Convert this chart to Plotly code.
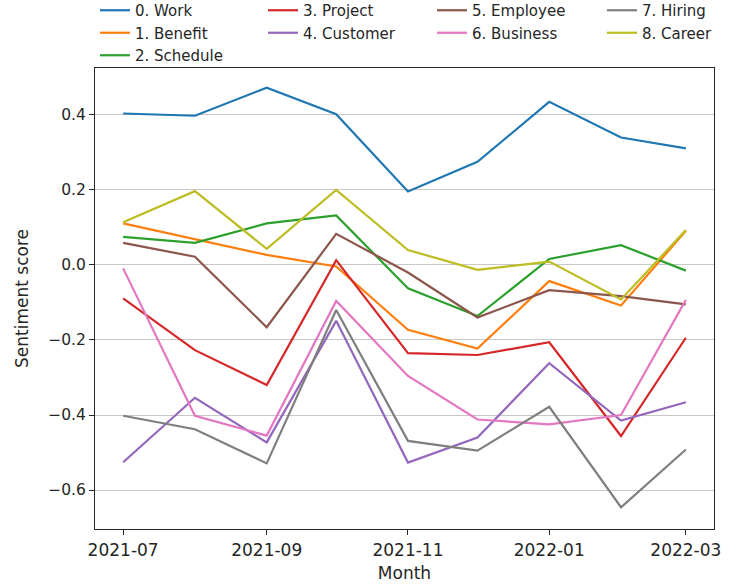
import plotly.graph_objects as go

months = ["2021-07-01", "2021-08-01", "2021-09-01", "2021-10-01", "2021-11-01",
          "2021-12-01", "2022-01-01", "2022-02-01", "2022-03-01"]

work =     [0.404, 0.398, 0.473, 0.402, 0.196, 0.275, 0.435, 0.340, 0.311]
benefit =  [0.111, 0.069, 0.027, -0.004, -0.173, -0.223, -0.043, -0.108, 0.091]
schedule = [0.075, 0.059, 0.111, 0.132, -0.062, -0.136, 0.016, 0.053, -0.015]
project =  [-0.089, -0.227, -0.320, 0.013, -0.235, -0.240, -0.206, -0.456, -0.194]
customer = [-0.526, -0.354, -0.473, -0.149, -0.527, -0.460, -0.262, -0.415, -0.366]
employee = [0.059, 0.022, -0.166, 0.083, -0.020, -0.140, -0.067, -0.083, -0.105]
business = [-0.009, -0.402, -0.455, -0.096, -0.296, -0.412, -0.425, -0.400, -0.093]
hiring =   [-0.402, -0.438, -0.529, -0.120, -0.469, -0.495, -0.378, -0.646, -0.492]
career =   [0.114, 0.197, 0.043, 0.200, 0.040, -0.013, 0.009, -0.092, 0.093]

# (name, values, colour, legend column)
series = [
    ("0. Work", work, "#1f77b4", "legend"),
    ("1. Benefit", benefit, "#ff7f0e", "legend"),
    ("2. Schedule", schedule, "#2ca02c", "legend"),
    ("3. Project", project, "#d62728", "legend2"),
    ("4. Customer", customer, "#9467bd", "legend2"),
    ("5. Employee", employee, "#8c564b", "legend3"),
    ("6. Business", business, "#e377c2", "legend3"),
    ("7. Hiring", hiring, "#7f7f7f", "legend4"),
    ("8. Career", career, "#bcbd22", "legend4"),
]

yticks = [0.4, 0.2, 0.0, -0.2, -0.4, -0.6]
yticktext = ["0.4", "0.2", "0.0", "\u22120.2", "\u22120.4", "\u22120.6"]

fig = go.Figure()
for name, vals, color, leg in series:
    fig.add_trace(go.Scatter(x=months, y=vals, mode="lines", name=name,
                             line=dict(color=color, width=2.2), legend=leg))

W, H = 741, 584
ml, mr, mt, mb = 95, 27, 68, 55
pw, ph = W - ml - mr, H - mt - mb

col_px = [95, 263, 432, 602]
legend_common = dict(orientation="v", xref="container", yref="paper",
                     y=1 + (mt + 6) / ph, xanchor="left", yanchor="top",
                     font=dict(size=15, color="#262626"),
                     bgcolor="rgba(0,0,0,0)", tracegroupgap=0, itemwidth=30,
                     traceorder="normal")

fig.update_layout(
    width=W, height=H,
    margin=dict(l=ml, r=mr, t=mt, b=mb, autoexpand=False),
    paper_bgcolor="white", plot_bgcolor="white",
    font=dict(family="DejaVu Sans", size=15, color="#262626"),
    showlegend=True,
    legend=dict(x=col_px[0] / W, **legend_common),
    legend2=dict(x=col_px[1] / W, **legend_common),
    legend3=dict(x=col_px[2] / W, **legend_common),
    legend4=dict(x=col_px[3] / W, **legend_common),
    xaxis=dict(
        type="date",
        range=["2021-06-18 20:24", "2022-03-13 03:36"],
        tick0="2021-07-01", dtick="M2", tickformat="%Y-%m",
        showgrid=False, zeroline=False,
        showline=True, mirror=True, linecolor="#262626", linewidth=1.2,
        ticks="outside", ticklen=5, tickcolor="#262626",
        tickfont=dict(size=17),
        title=dict(text="Month", standoff=8, font=dict(size=17)),
    ),
    yaxis=dict(
        range=[-0.704, 0.5253],
        tickvals=yticks, ticktext=yticktext,
        showgrid=True, gridcolor="#c8c8c8", gridwidth=1, zeroline=False,
        showline=True, mirror=True, linecolor="#262626", linewidth=1.2,
        ticks="outside", ticklen=5, tickcolor="#262626",
        tickfont=dict(size=15.5),
    ),
    annotations=[dict(text="Sentiment score", textangle=-90,
                      xref="paper", yref="paper",
                      x=(21.5 - ml) / pw, y=0.5,
                      xanchor="center", yanchor="middle", showarrow=False,
                      font=dict(size=17, color="#262626"))],
)

fig.write_html("out.html")
